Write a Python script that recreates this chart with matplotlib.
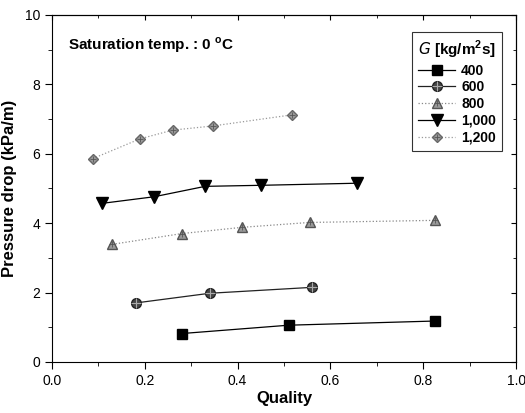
import numpy as np
from matplotlib import pyplot as plt
from matplotlib.ticker import MultipleLocator
from matplotlib.legend_handler import HandlerTuple

plt.rcParams['font.family'] = ['Liberation Sans', 'DejaVu Sans']

# data
x_400 = [0.28, 0.51, 0.825]
y_400 = [0.82, 1.06, 1.18]
x_600 = [0.18, 0.34, 0.56]
y_600 = [1.70, 1.98, 2.15]
x_800 = [0.13, 0.28, 0.41, 0.555, 0.825]
y_800 = [3.39, 3.70, 3.88, 4.02, 4.08]
x_1000 = [0.108, 0.22, 0.33, 0.45, 0.657]
y_1000 = [4.57, 4.76, 5.06, 5.09, 5.15]
x_1200 = [0.088, 0.19, 0.26, 0.347, 0.517]
y_1200 = [5.86, 6.43, 6.68, 6.80, 7.12]
labels = ['400', '600', '800', '1,000', '1,200']

fig = plt.figure(figsize=(5.25, 4.13), dpi=100)
ax = fig.add_axes([0.099, 0.1235, 0.884, 0.8405])

h1, = ax.plot(x_400, y_400, '-', color='black', lw=0.9, marker='s', ms=6.5,
              mfc='black', mec='black')
h2, = ax.plot(x_600, y_600, '-', color='#222222', lw=0.9, marker='o', ms=7,
              mfc='#444444', mec='#222222')
h2b, = ax.plot(x_600, y_600, ls='none', marker='+', ms=7, mew=0.8, color='#aaaaaa')
h3, = ax.plot(x_800, y_800, ':', color='#888888', lw=0.9, marker='^', ms=7,
              mfc='#999999', mec='#555555')
h3b, = ax.plot(x_800, y_800, ls='none', marker='+', ms=4, mew=0.6, color='#555555')
h4, = ax.plot(x_1000, y_1000, '-', color='black', lw=0.9, marker='v', ms=8.5,
              mfc='black', mec='black')
h5, = ax.plot(x_1200, y_1200, ':', color='#999999', lw=0.9, marker='D', ms=5.5,
              mfc='#999999', mec='#666666')
h5b, = ax.plot(x_1200, y_1200, ls='none', marker='+', ms=5, mew=0.6, color='#555555')

ax.set_xlim(0, 1.0)
ax.set_ylim(0, 10)
ax.xaxis.set_major_locator(MultipleLocator(0.2))
ax.xaxis.set_minor_locator(MultipleLocator(0.1))
ax.yaxis.set_major_locator(MultipleLocator(2))
ax.yaxis.set_minor_locator(MultipleLocator(1))
ax.xaxis.set_major_formatter(plt.FuncFormatter(lambda v, p: '%.1f' % v))
ax.tick_params(which='both', direction='out', top=False, right=False, labelsize=10)
ax.tick_params(which='major', length=5)
ax.tick_params(which='minor', length=3)
sec_x = ax.secondary_xaxis('top')
sec_x.set_xticks(np.arange(0, 1.01, 0.2))
sec_x.xaxis.set_minor_locator(MultipleLocator(0.1))
sec_x.tick_params(which='both', direction='in', labeltop=False)
sec_y = ax.secondary_yaxis('right')
sec_y.set_yticks(np.arange(0, 10.1, 2))
sec_y.yaxis.set_minor_locator(MultipleLocator(1))
sec_y.tick_params(which='both', direction='in', labelright=False)

ax.set_xlabel('Quality', fontsize=12, fontweight='bold', labelpad=2)
ax.set_ylabel('Pressure drop (kPa/m)', fontsize=12, fontweight='bold')
ax.yaxis.set_label_coords(-0.075, 0.5)

ax.text(0.035, 0.94, 'Saturation temp. : 0 $^{\\mathregular{o}}$C', transform=ax.transAxes,
        fontsize=11, fontweight='bold', va='top')

leg = ax.legend([h1, (h2, h2b), (h3, h3b), h4, (h5, h5b)], labels,
                handler_map={tuple: HandlerTuple(ndivide=1)},
                loc='upper right', bbox_to_anchor=(0.985, 0.97), fontsize=10,
                title='$\\it{G}$ [kg/m$^{\\mathregular{2}}$s]', title_fontsize=11,
                frameon=True, fancybox=False, edgecolor='black', handlelength=2.7,
                labelspacing=0.2, borderpad=0.45, handletextpad=0.4)
leg.get_frame().set_linewidth(0.8)
for t in leg.get_texts():
    t.set_fontweight('bold')
leg.get_title().set_fontweight('bold')

fig.savefig('out.png', dpi=100)
